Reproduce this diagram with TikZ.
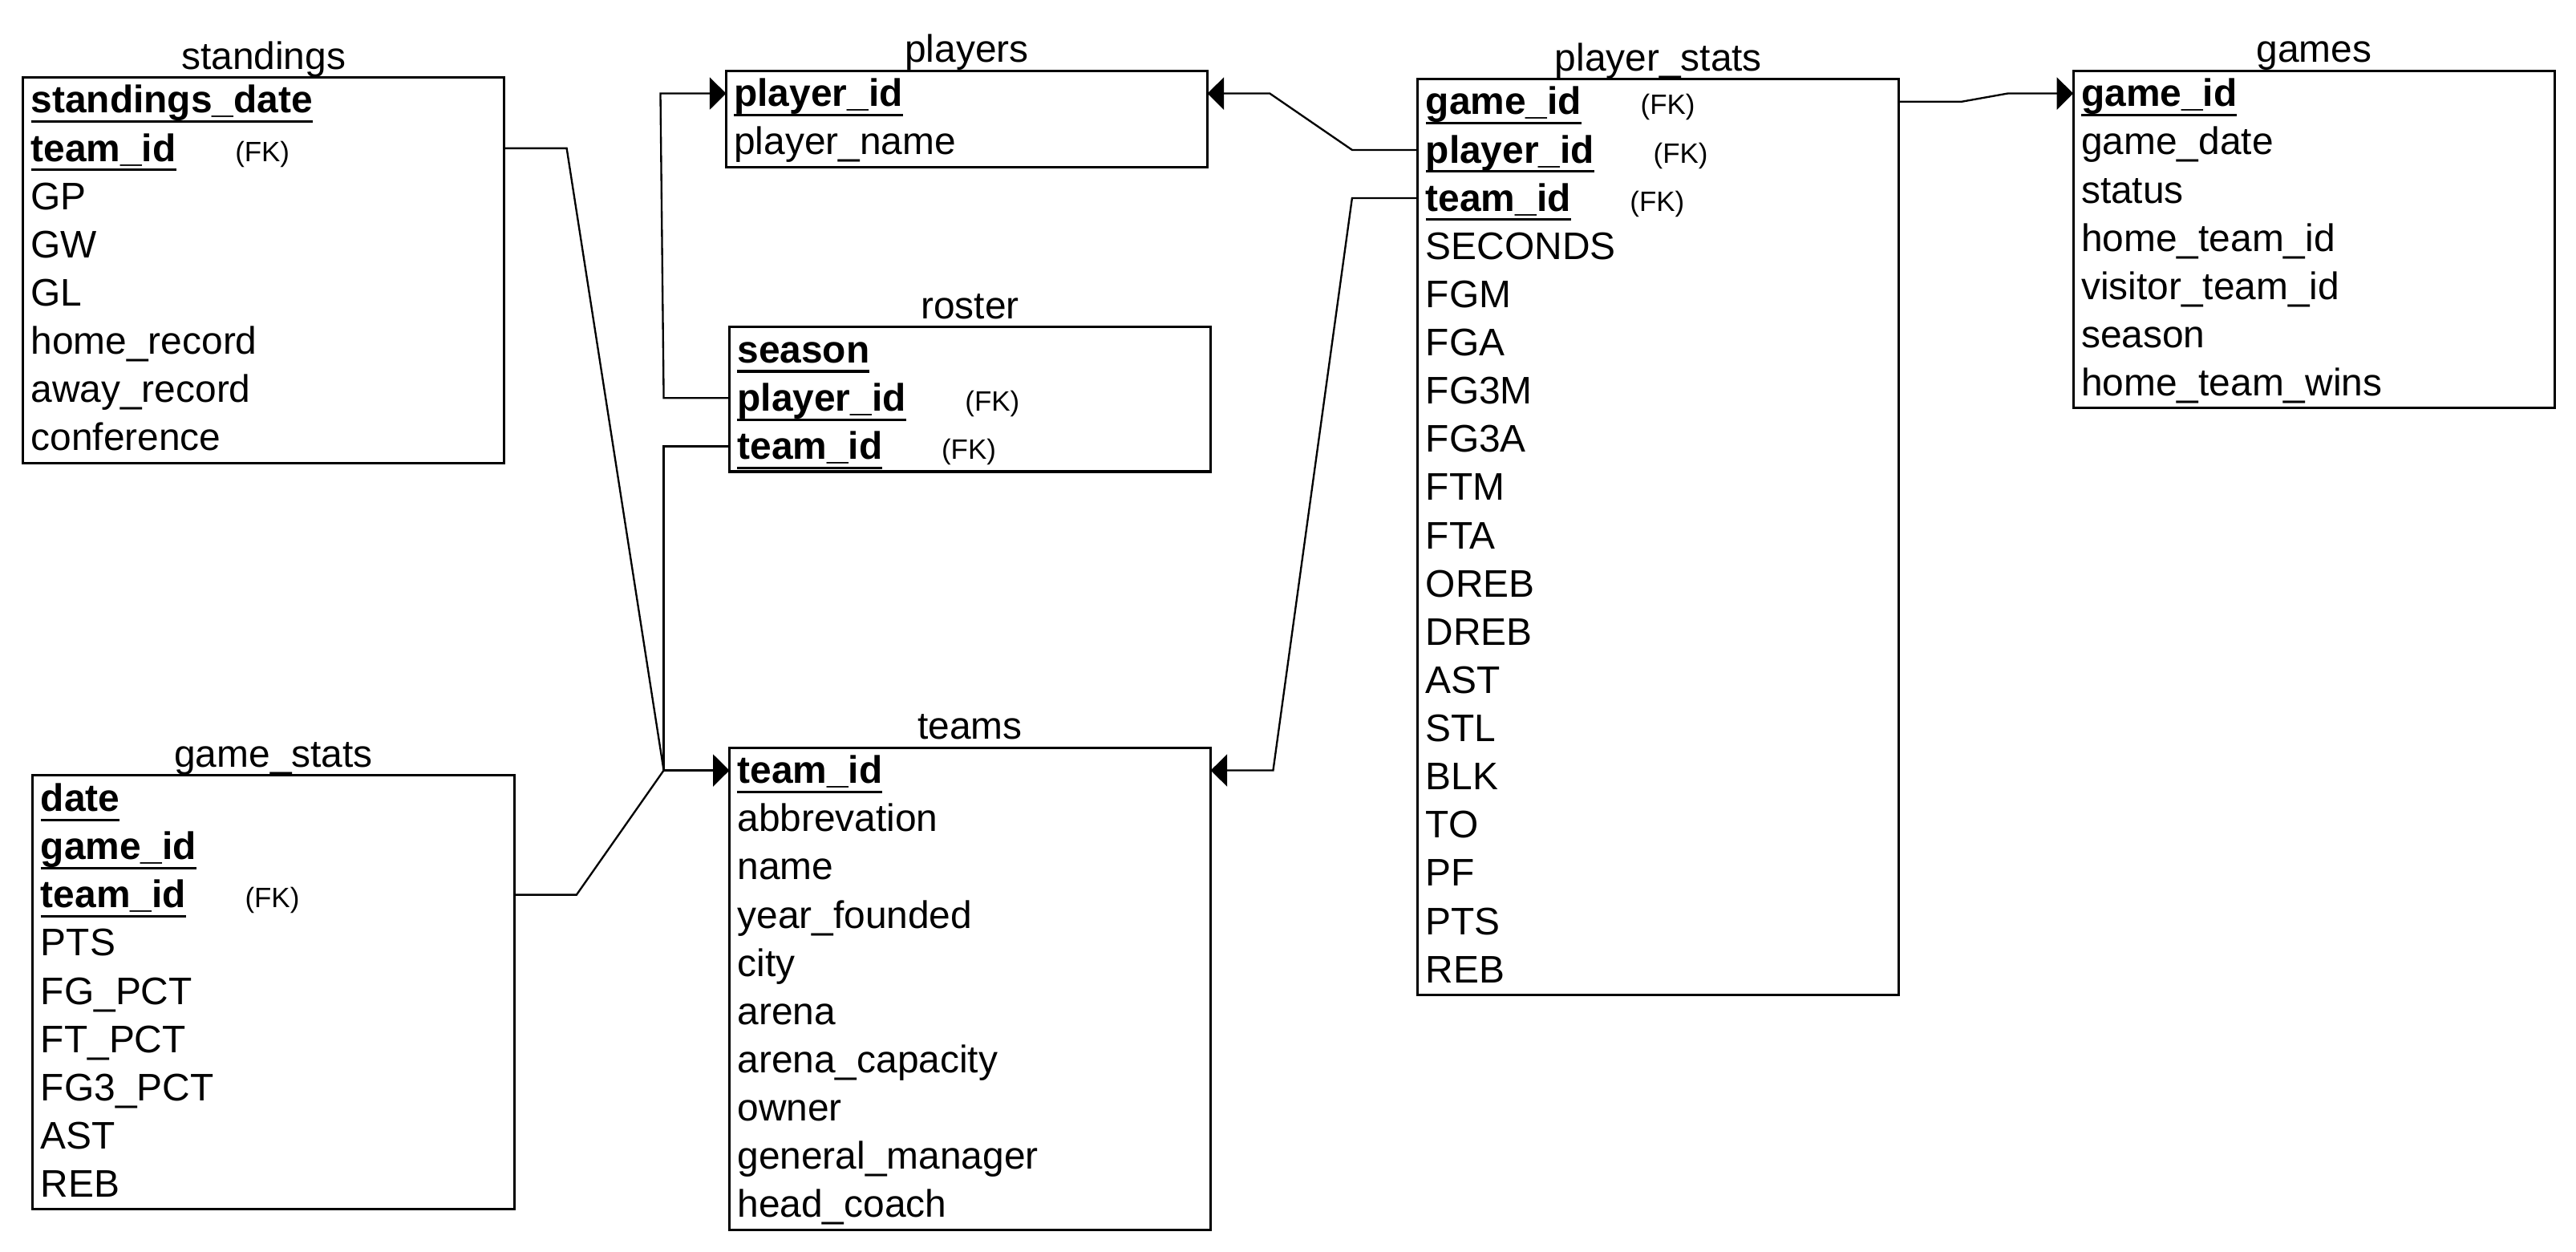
\documentclass[tikz,border=0pt]{standalone}
\usepackage{fontspec}
\setmainfont{Liberation Sans}
\usetikzlibrary{arrows.meta, calc}

\newcommand{\pk}[1]{\setbox0\hbox{\bfseries #1}\rlap{\rule[-3.4pt]{\wd0}{0.85pt}}\box0}
\newcommand{\fk}{\hspace{0.72cm}{\fontsize{9.7}{11}\selectfont(FK)}}

\begin{document}
\begin{tikzpicture}[x=0.02cm, y=-0.02cm,
        tbl/.style={draw, line width=0.85pt, anchor=north west, minimum width=5.86cm, inner sep=0pt, outer sep=0pt},
        title/.style={anchor=base, inner sep=0pt, font=\fontsize{13.3}{16}\selectfont},
        field/.style={anchor=base west, inner sep=0pt, text height=11pt, text depth=2pt, font=\fontsize{13.3}{16}\selectfont},
        link/.style={line width=0.65pt},
        refarrow/.style={link, -{Triangle[length=0.2cm, width=0.39cm]}}]

    \useasboundingbox (0,0) rectangle (1568,762);

    % 1. Table frames
    \node[tbl, minimum height={8*0.587cm}] (standings) at (14,47) {};
    \node[tbl, minimum height={2*0.587cm}] (players) at (442,43) {};
    \node[tbl, minimum height={3*0.587cm}] (roster) at (444,199) {};
    \node[tbl, minimum height={10*0.587cm}] (teams) at (444,455) {};
    \node[tbl, minimum height={9*0.587cm}] (gamestats) at (20,472) {};
    \node[tbl, minimum height={19*0.587cm}] (playerstats) at (863,48) {};
    \node[tbl, minimum height={7*0.587cm}] (games) at (1262,43) {};

    % 2. Table titles
    \foreach \t/\lbl in {standings/standings, players/players, roster/roster, teams/teams,
        gamestats/game\_stats, playerstats/player\_stats, games/games} {
        \node[title] at ($(\t.north)+(0,-5)$) {\lbl};
    }

    % 3. Fields of each table
    \foreach \f [count=\i] in {\pk{standings\_date}, \pk{team\_id}\fk, GP, GW, GL,
        home\_record, away\_record, conference}
        \node[field] (standings-\i) at ($(standings.north west)+(4.5,{21.8+29.35*(\i-1)})$) {\f};
    \foreach \f [count=\i] in {\pk{player\_id}, player\_name}
        \node[field] (players-\i) at ($(players.north west)+(4.5,{21.8+29.35*(\i-1)})$) {\f};
    \foreach \f [count=\i] in {\pk{season}, \pk{player\_id}\fk, \pk{team\_id}\fk}
        \node[field] (roster-\i) at ($(roster.north west)+(4.5,{21.8+29.35*(\i-1)})$) {\f};
    \foreach \f [count=\i] in {\pk{team\_id}, abbrevation, name, year\_founded, city, arena,
        arena\_capacity, owner, general\_manager, head\_coach}
        \node[field] (teams-\i) at ($(teams.north west)+(4.5,{21.8+29.35*(\i-1)})$) {\f};
    \foreach \f [count=\i] in {\pk{date}, \pk{game\_id}, \pk{team\_id}\fk, PTS, FG\_PCT,
        FT\_PCT, FG3\_PCT, AST, REB}
        \node[field] (gamestats-\i) at ($(gamestats.north west)+(4.5,{21.8+29.35*(\i-1)})$) {\f};
    \foreach \f [count=\i] in {\pk{game\_id}\fk, \pk{player\_id}\fk, \pk{team\_id}\fk, SECONDS,
        FGM, FGA, FG3M, FG3A, FTM, FTA, OREB, DREB, AST, STL, BLK, TO, PF, PTS, REB}
        \node[field] (playerstats-\i) at ($(playerstats.north west)+(4.5,{21.8+29.35*(\i-1)})$) {\f};
    \foreach \f [count=\i] in {\pk{game\_id}, game\_date, status, home\_team\_id,
        visitor\_team\_id, season, home\_team\_wins}
        \node[field] (games-\i) at ($(games.north west)+(4.5,{21.8+29.35*(\i-1)})$) {\f};

    % 4. Joint in front of teams.team_id
    \coordinate (hub) at ($(teams.west |- teams-1)+(-40,0)$);

    % 5. Foreign keys to teams
    \draw[link] (standings.east |- standings-2) -- ++(38,0) -- (hub);
    \draw[link] (roster.west |- roster-3) -- (hub |- roster-3) -- (hub);
    \draw[link] (gamestats.east |- gamestats-3) -- ++(38,0) -- (hub);
    \draw[refarrow] (hub) -- (teams.west |- teams-1);
    \draw[refarrow] (playerstats.west |- playerstats-3) -- ++(-40,0)
        -- ($(teams.east |- teams-1)+(38,0)$) -- (teams.east |- teams-1);

    % 6. Foreign keys to players
    \draw[refarrow] (roster.west |- roster-2) -- ++(-40,0)
        -- ($(players.west |- players-1)+(-40,0)$) -- (players.west |- players-1);
    \draw[refarrow] (playerstats.west |- playerstats-2) -- ++(-40,0)
        -- ($(players.east |- players-1)+(38,0)$) -- (players.east |- players-1);

    % 7. Foreign key to games
    \draw[refarrow] (playerstats.east |- playerstats-1) -- ++(38,0)
        -- ($(games.west |- games-1)+(-40,0)$) -- (games.west |- games-1);

\end{tikzpicture}
\end{document}
